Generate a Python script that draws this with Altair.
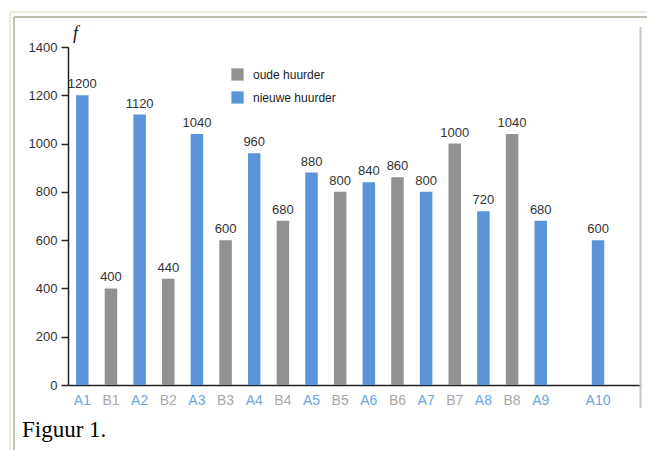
import altair as alt
import pandas as pd

# ---- data ----
categories = ["A1", "B1", "A2", "B2", "A3", "B3", "A4", "B4", "A5", "B5",
              "A6", "B6", "A7", "B7", "A8", "B8", "A9", "A10"]
values = [1200, 400, 1120, 440, 1040, 600, 960, 680, 880, 800,
          840, 860, 800, 1000, 720, 1040, 680, 600]
groups = ["nieuwe huurder" if c.startswith("A") else "oude huurder" for c in categories]
slots = ["A1", "B1", "A2", "B2", "A3", "B3", "A4", "B4", "A5", "B5",
         "A6", "B6", "A7", "B7", "A8", "B8", "A9", "B9", "A10", "B10"]
y_ticks = [0, 200, 400, 600, 800, 1000, 1200, 1400]
legend_labels = ["oude huurder", "nieuwe huurder"]
legend_colors = ["#919191", "#5b94d8"]

df = pd.DataFrame({"cat": categories, "val": values, "grp": groups})

W, H = 573, 338
FONT = "Liberation Sans"

x_enc = alt.X("cat:N", sort=slots,
              scale=alt.Scale(domain=slots, paddingInner=0, paddingOuter=0),
              axis=alt.Axis(title=None, labelAngle=0, ticks=False, domain=True,
                            domainColor="#222222", domainWidth=1.5,
                            labelFont=FONT, labelFontSize=14, labelPadding=8,
                            labelExpr="datum.value == 'B9' || datum.value == 'B10' ? '' : datum.value",
                            labelColor=alt.condition("indexof(datum.value, 'A') == 0",
                                                     alt.value("#6fa3e3"), alt.value("#a8a8a8")),
                            grid=False))
y_enc = alt.Y("val:Q", scale=alt.Scale(domain=[0, 1400], nice=False),
              axis=alt.Axis(title=None, values=y_ticks, format="d", grid=False,
                            domainColor="#222222", domainWidth=1.5,
                            tickColor="#222222", tickSize=7, tickWidth=1.5,
                            labelFont=FONT, labelFontSize=13, labelColor="#333333",
                            labelPadding=4))

bars = alt.Chart(df).mark_bar(size=12.5).encode(
    x=x_enc,
    y=y_enc,
    color=alt.Color("grp:N",
                    scale=alt.Scale(domain=legend_labels, range=legend_colors),
                    legend=alt.Legend(title=None, orient="none", legendX=163, legendY=21,
                                      symbolType="square", symbolSize=150,
                                      symbolStrokeWidth=0, symbolOpacity=1,
                                      labelFont=FONT, labelFontSize=12, labelColor="#222222",
                                      labelOffset=9, rowPadding=10, padding=0)),
)

labels = alt.Chart(df).mark_text(baseline="bottom", dy=-4, font=FONT,
                                 fontSize=13, color="#333333").encode(
    x=alt.X("cat:N", sort=slots),
    y="val:Q",
    text="val:Q",
)

one = alt.Data(values=[{"k": 0}])

f_label = alt.Chart(one).mark_text(text="f", font="Liberation Serif", fontStyle="italic",
                                   fontSize=18, align="left", baseline="alphabetic",
                                   color="#111111").encode(
    x=alt.value(5), y=alt.value(-8))

caption = alt.Chart(one).mark_text(text="Figuur 1.", font="Liberation Serif", fontSize=23,
                                   align="left", baseline="alphabetic",
                                   color="#000000").encode(
    x=alt.value(-46), y=alt.value(390))

def rule(x, x2, y, y2, color, width):
    return alt.Chart(one).mark_rule(color=color, strokeWidth=width).encode(
        x=alt.value(x), x2=alt.value(x2), y=alt.value(y), y2=alt.value(y2))

frame = [
    rule(-58, 579, -35, -35, "#ece9d8", 2),
    rule(-58, -58, -35, 403, "#ece9d8", 2),
    rule(-54, 579, -30, -30, "#aca899", 1.5),
    rule(-54, -54, -30, 403, "#aca899", 1.5),
    rule(572.5, 572.5, -20, 361, "#c8c8c8", 2),
]

chart = alt.layer(*frame, bars, labels, f_label, caption).properties(
    width=W, height=H,
    background="white",
    autosize=alt.AutoSizeParams(type="none"),
    padding={"left": 68, "top": 47, "right": 6, "bottom": 65},
).configure_view(strokeWidth=0, stroke="transparent")

chart.save("out.html", embed_options={"renderer": "svg", "actions": False})
